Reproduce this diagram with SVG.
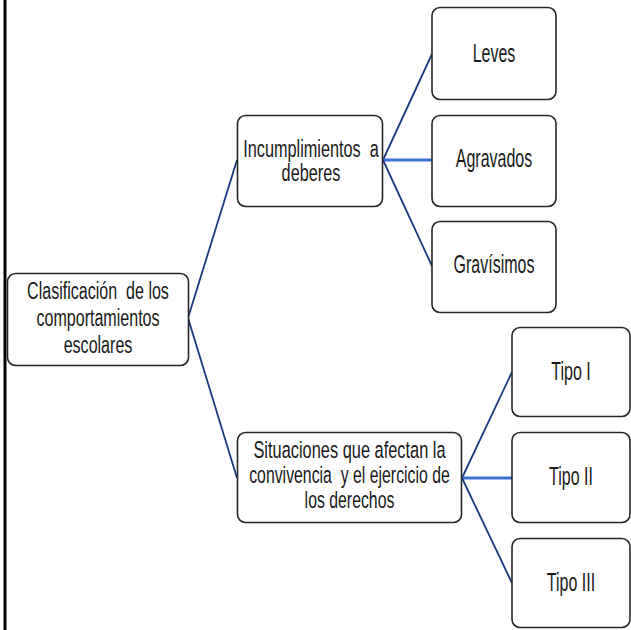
<svg xmlns="http://www.w3.org/2000/svg" width="631" height="630" viewBox="0 0 631 630">
<style>
.box{fill:#fff;stroke:#262626;stroke-width:1.6}
.t{font-family:"Liberation Sans",Arial,sans-serif;font-size:22px;fill:#1a1a1a;text-anchor:middle;white-space:pre}
.tl{font-family:"Liberation Sans",Arial,sans-serif;font-size:25px;fill:#1a1a1a;text-anchor:middle;white-space:pre}
.d{stroke:#1c3a80;stroke-width:1.8;fill:none}
.h{stroke:#3b70d4;stroke-width:3.2;fill:none}
</style>
<rect x="0" y="0" width="631" height="630" fill="#fff"/>
<rect x="3.5" y="0" width="3" height="630" fill="#000"/>
<g id="connectors">
<line class="d" x1="188" y1="318" x2="237" y2="160"/>
<line class="d" x1="188" y1="318" x2="237" y2="478"/>
<line class="d" x1="383" y1="160" x2="432" y2="54"/>
<line class="h" x1="383" y1="160" x2="432" y2="160"/>
<line class="d" x1="383" y1="160" x2="432" y2="266"/>
<line class="d" x1="462" y1="478" x2="512" y2="372"/>
<line class="h" x1="462" y1="478" x2="512" y2="478"/>
<line class="d" x1="462" y1="478" x2="512" y2="583"/>
</g>
<g id="root">
<rect class="box" x="7.5" y="273.5" width="181" height="92" rx="8"/>
<text class="t" transform="translate(98,299) scale(0.73,1.05)">Clasificación  de los</text>
<text class="t" transform="translate(98,326) scale(0.73,1.05)">comportamientos</text>
<text class="t" transform="translate(98,353) scale(0.73,1.05)">escolares</text>
</g>
<g id="incumplimientos">
<rect class="box" x="237.5" y="115.5" width="145" height="91" rx="8"/>
<text class="t" transform="translate(311,157) scale(0.74,1.05)">Incumplimientos  a</text>
<text class="t" transform="translate(311,181) scale(0.74,1.05)">deberes</text>
</g>
<g id="situaciones">
<rect class="box" x="237.5" y="432.5" width="224" height="90" rx="8"/>
<text class="t" transform="translate(349.5,458) scale(0.745,1.05)">Situaciones que afectan la</text>
<text class="t" transform="translate(349.5,483) scale(0.72,1.05)">convivencia  y el ejercicio de</text>
<text class="t" transform="translate(349.5,508) scale(0.72,1.05)">los derechos</text>
</g>
<g id="leves">
<rect class="box" x="432" y="7.5" width="124" height="92" rx="8"/>
<text class="tl" transform="translate(494,62) scale(0.64,1)">Leves</text>
</g>
<g id="agravados">
<rect class="box" x="432" y="115.5" width="124" height="91" rx="8"/>
<text class="tl" transform="translate(494,167) scale(0.64,1)">Agravados</text>
</g>
<g id="gravisimos">
<rect class="box" x="432" y="221.5" width="124" height="91" rx="8"/>
<text class="tl" transform="translate(494,273) scale(0.64,1)">Gravísimos</text>
</g>
<g id="tipo1">
<rect class="box" x="512" y="327.5" width="118" height="89" rx="8"/>
<text class="tl" transform="translate(571,380) scale(0.64,1)">Tipo I</text>
</g>
<g id="tipo2">
<rect class="box" x="512" y="432.5" width="118" height="90" rx="8"/>
<text class="tl" transform="translate(571,485) scale(0.64,1)">Tipo II</text>
</g>
<g id="tipo3">
<rect class="box" x="512" y="538.5" width="118" height="89" rx="8"/>
<text class="tl" transform="translate(571,591) scale(0.64,1)">Tipo III</text>
</g>
</svg>
